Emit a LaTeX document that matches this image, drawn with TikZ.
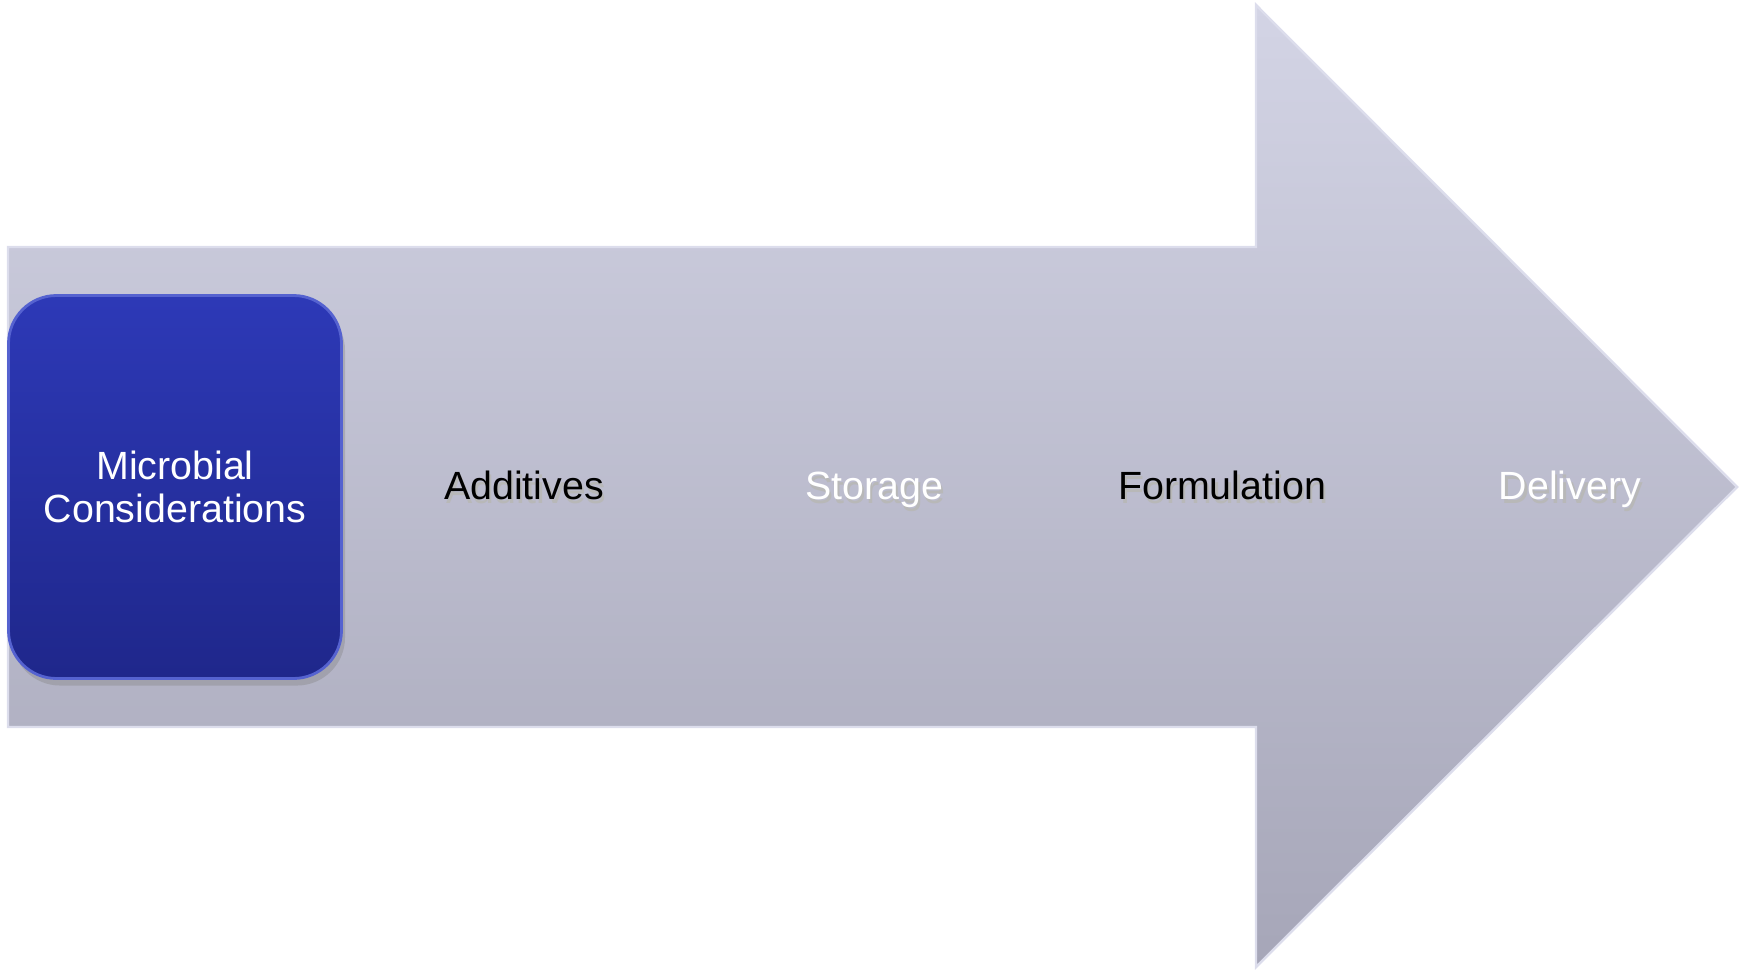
\documentclass[tikz,border=0pt]{standalone}
\usepackage{fontspec}
\setmainfont{Liberation Sans}
\usetikzlibrary{shadows}

\definecolor{arrowtop}{HTML}{D3D4E5}
\definecolor{arrowbot}{HTML}{A6A6B8}
\definecolor{arrowrim}{HTML}{DCDDEC}
\definecolor{boxtop}{HTML}{2D39B7}
\definecolor{boxbot}{HTML}{1F278B}
\definecolor{boxrim}{HTML}{5562D0}

% text with a soft shadow below it
\newcommand{\shadetext}[2]{\makebox[0pt][l]{\hspace{0.7pt}\raisebox{-0.9pt}{\color{black!28}#2}}{\color{#1}#2}}

\tikzset{
  arrowbody/.style={top color=arrowtop, bottom color=arrowbot, draw=arrowrim, line width=0.7pt, line join=miter},
  microbox/.style={rounded corners=0.48cm, top color=boxtop, bottom color=boxbot, draw=boxrim, line width=0.8pt,
    minimum width=3.33cm, minimum height=3.83cm, align=center, text=white,
    drop shadow={shadow xshift=1pt, shadow yshift=-2pt, opacity=0.35}},
  steplabel/.style={inner sep=2pt, text height=0.73em, text depth=0pt}
}

\begin{document}
\begin{tikzpicture}[x=0.1mm, y=-0.1mm, every node/.style={font=\fontsize{11.2}{12}\selectfont}]
			\useasboundingbox (0,0) rectangle (1745,969);
			\path[arrowbody] (8,247) -- (1256,247) -- (1256,5) -- (1737,487) -- (1256,967) -- (1256,727) -- (8,727) -- cycle;
			\node[microbox] (micro) at (175,487) {Microbial\\Considerations};
			\node[steplabel] (additives) at (524,487) {\shadetext{black}{Additives}};
			\node[steplabel] (storage) at (874,487) {\shadetext{white}{Storage}};
			\node[steplabel] (formulation) at (1222,487) {\shadetext{black}{Formulation}};
			\node[steplabel] (delivery) at (1570,487) {\shadetext{white}{Delivery}};
		\end{tikzpicture}
\end{document}
